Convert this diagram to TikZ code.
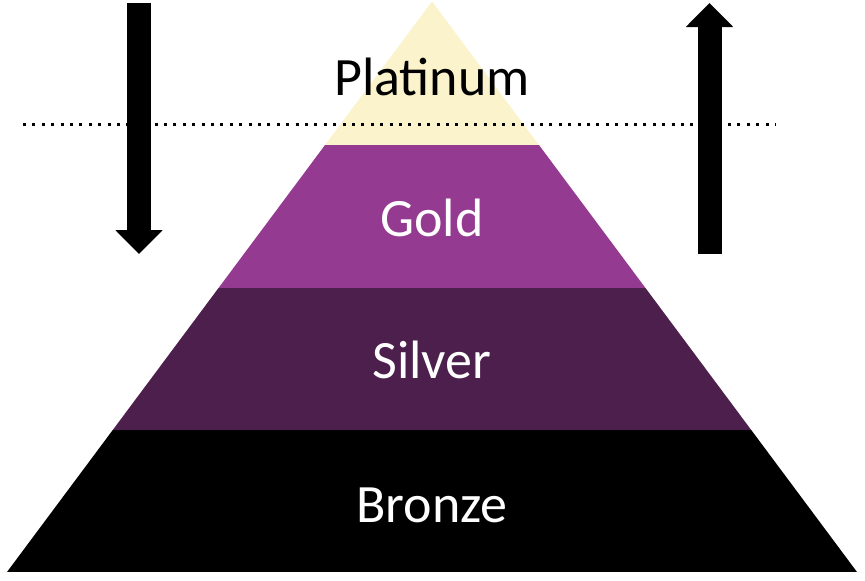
\documentclass[tikz,border=0pt]{standalone}
\usepackage{fontspec}
\setmainfont{Carlito}
\usetikzlibrary{arrows.meta}
\definecolor{platinum}{HTML}{FBF3CB}
\definecolor{gold}{HTML}{953A91}
\definecolor{silver}{HTML}{4D1F4C}
\definecolor{bronze}{HTML}{000000}
\begin{document}
\begin{tikzpicture}[x=1pt,y=-1pt,
  level/.style = {inner sep=0pt, anchor=center,
    font=\fontsize{54}{60}\selectfont},
  bigarrow/.style = {line width=24pt,
    -{Triangle[width=46pt,length=24pt]}},
  cutline/.style = {line width=3pt, dash pattern=on 3pt off 6.4pt}
  ]
  \useasboundingbox (0,0) rectangle (865,581);
  \begin{scope}
    \clip (432,1.4) -- (857,572) -- (7,572) -- cycle;
    \fill[platinum] (0,0) rectangle (865,145);
    \fill[gold] (0,145) rectangle (865,288);
    \fill[silver] (0,288) rectangle (865,430);
    \fill[bronze] (0,430) rectangle (865,572);
  \end{scope}
  \node[level, text=black] (plat) at (432,77) {Platinum};
  \node[level, text=white] (gold) at (432,218) {Gold};
  \node[level, text=white] (silv) at (432,360) {Silver};
  \node[level, text=white] (bron) at (432,505) {Bronze};
  \coordinate (line start) at (23,124);
  \coordinate (line end) at (776,124);
  \draw[cutline] (line start) -- (line end);
  \coordinate (down top) at (139,3);
  \coordinate (down tip) at (139,254);
  \coordinate (up foot) at (709.5,254);
  \coordinate (up tip) at (709.5,3);
  \draw[bigarrow] (down top) -- (down tip);
  \draw[bigarrow] (up foot) -- (up tip);
\end{tikzpicture}
\end{document}
